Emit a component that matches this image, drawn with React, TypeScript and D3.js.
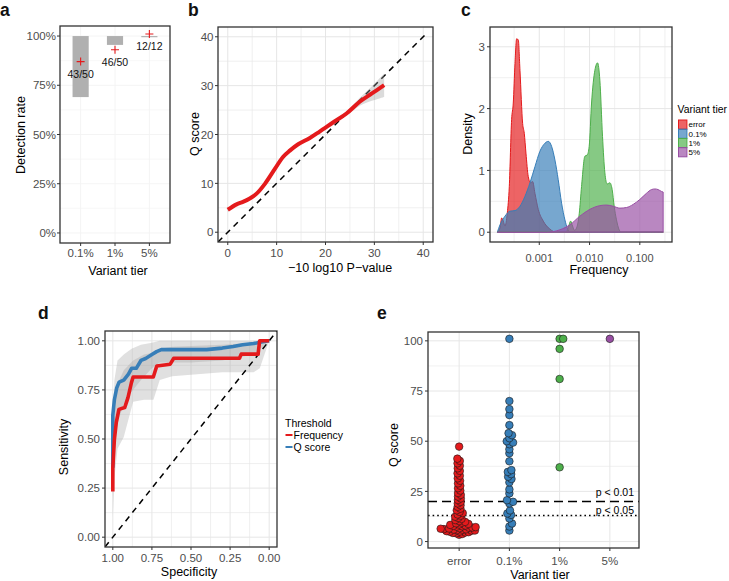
import React from "react";
import * as d3 from "d3";

const FONT = "'Liberation Sans', Arial, Helvetica, sans-serif";
const TICK_COL = "#4d4d4d";
const GRID = "#e6e6e6";
const FRAME = "#333333";
const RED = "#e41a1c";
const BLUE = "#377eb8";
const GREEN = "#4daf4a";
const PURPLE = "#984ea3";

// ---- a: detection rate per variant tier
const tierLabels = ["0.1%", "1%", "5%"];
const detected = [43, 46, 12];
const totals = [50, 50, 12];
const ciLower = [69, 95.5, 99.4];
const ciUpper = [100, 100, 100];

// ---- b: Q score vs -10 log10 P-value (smoothed fit)
const bPval = [0, 1.8, 3.1, 4.5, 5.9, 7.6, 9.6, 11.3, 12.7, 14.4, 16.8, 18.8, 21.6, 24.3, 27.0, 29.5, 32.0];
const bQ = [4.6, 5.7, 6.2, 6.9, 7.9, 9.9, 12.9, 15.4, 16.7, 18.0, 19.3, 20.6, 22.5, 24.3, 26.7, 28.4, 30.1];
const bSe = [0.4, 0.3, 0.3, 0.3, 0.3, 0.3, 0.3, 0.3, 0.3, 0.3, 0.3, 0.3, 0.3, 0.4, 0.8, 1.5, 2.4];

// ---- c: frequency densities (log10 frequency, density)
const errorLogF = [-3.834, -3.781, -3.748, -3.715, -3.682, -3.636, -3.596, -3.55, -3.517, -3.483, -3.45, -3.417, -3.384, -3.331, -3.298, -3.265, -3.219, -3.172, -3.132, -3.086, -3.02, -2.92, -2.788, -2.656, -0.536];
const errorDens = [0, 0.07, 0.23, 0.18, 0.1, 0.31, 0.74, 1.82, 2.09, 2.73, 3.13, 3.11, 2.62, 1.76, 1.6, 1.28, 0.9, 0.8, 0.82, 0.63, 0.37, 0.18, 0.05, 0, 0];
const tier01LogF = [-3.834, -3.781, -3.682, -3.583, -3.483, -3.384, -3.285, -3.185, -3.086, -2.987, -2.887, -2.821, -2.755, -2.689, -2.623, -2.556, -2.49, -2.444, -2.377, -0.536];
const tier01Dens = [0, 0.12, 0.26, 0.34, 0.35, 0.42, 0.58, 0.8, 1.06, 1.31, 1.44, 1.47, 1.39, 1.17, 0.85, 0.47, 0.2, 0.07, 0, 0];
const tier1LogF = [-3.834, -2.47, -2.424, -2.377, -2.338, -2.298, -2.245, -2.205, -2.159, -2.093, -2.046, -2.007, -1.96, -1.894, -1.841, -1.795, -1.742, -1.695, -1.649, -1.596, -1.55, -1.51, -1.464, -1.411, -1.364, -0.536];
const tier1Dens = [0, 0, 0.07, 0.18, 0.1, 0.03, 0.1, 0.3, 0.74, 1.23, 1.25, 1.39, 2.09, 2.62, 2.74, 2.46, 1.55, 0.96, 0.78, 0.8, 0.69, 0.42, 0.2, 0.04, 0, 0];
const tier5LogF = [-3.834, -2.854, -2.722, -2.589, -2.391, -2.192, -1.993, -1.795, -1.662, -1.53, -1.397, -1.265, -1.132, -1.0, -0.868, -0.768, -0.702, -0.636, -0.57, -0.536];
const tier5Dens = [0, 0, 0.01, 0.04, 0.12, 0.26, 0.37, 0.43, 0.44, 0.42, 0.39, 0.4, 0.45, 0.53, 0.63, 0.69, 0.7, 0.69, 0.66, 0.65];
const densLabels = ["error", "0.1%", "1%", "5%"];

// ---- d: ROC curves
const freqSpec = [1.0, 1.0, 0.99, 0.978, 0.961, 0.924, 0.903, 0.881, 0.87, 0.741, 0.719, 0.633, 0.611, 0.19, 0.179, 0.071, 0.061, 0.0];
const freqSens = [0.233, 0.353, 0.497, 0.583, 0.651, 0.66, 0.711, 0.787, 0.816, 0.816, 0.872, 0.881, 0.911, 0.911, 0.932, 0.932, 1.0, 1.0];
const qSpec = [1.0, 1.0, 0.99, 0.975, 0.96, 0.93, 0.9, 0.88, 0.85, 0.82, 0.79, 0.75, 0.72, 0.69, 0.55, 0.4, 0.3, 0.23, 0.17, 0.1, 0.04, 0.0];
const qSens = [0.353, 0.62, 0.7, 0.76, 0.79, 0.8, 0.83, 0.86, 0.86, 0.9, 0.91, 0.93, 0.945, 0.955, 0.955, 0.955, 0.963, 0.971, 0.98, 0.986, 0.995, 1.0];
const qBandSpec = [1.0, 0.99, 0.97, 0.93, 0.88, 0.82, 0.75, 0.7, 0.5, 0.3, 0.1, 0.0];
const qBandLow = [0.2, 0.45, 0.58, 0.68, 0.74, 0.8, 0.86, 0.89, 0.89, 0.9, 0.93, 1.0];
const qBandHigh = [0.55, 0.8, 0.9, 0.93, 0.96, 0.98, 0.99, 1.0, 1.0, 1.0, 1.0, 1.0];
const freqBandSpec = [1.0, 0.99, 0.97, 0.93, 0.87, 0.8, 0.74, 0.7, 0.62, 0.3, 0.1, 0.06, 0.0];
const freqBandLow = [0.1, 0.3, 0.45, 0.51, 0.69, 0.7, 0.7, 0.8, 0.82, 0.84, 0.84, 0.86, 1.0];
const freqBandHigh = [0.4, 0.62, 0.78, 0.85, 0.9, 0.93, 0.94, 0.96, 0.97, 0.98, 0.99, 1.0, 1.0];
const rocLabels = ["Frequency", "Q score"];

// ---- e: Q scores per tier
const eTiers = ["error", "0.1%", "1%", "5%"];
const errorQ = [3.4, 3.8, 4.1, 4.3, 4.5, 4.7, 4.9, 5.0, 5.2, 5.4, 5.5, 5.7, 5.9, 6.0, 6.1, 6.2, 6.4, 6.5, 6.7, 6.9, 7.0, 7.2, 7.4, 7.6, 7.8, 8.0, 8.3, 8.5, 8.8, 9.1, 9.4, 9.8, 10.2, 10.7, 11.3, 11.8, 12.4, 12.9, 13.5, 14.2, 14.8, 15.6, 16.4, 17.3, 18.1, 19.0, 19.8, 20.7, 21.5, 22.4, 23.3, 24.2, 25.4, 26.6, 27.8, 29.0, 30.3, 31.5, 32.8, 34.0, 35.2, 36.5, 37.8, 39.0, 40.2, 41.3, 47.3];
const tier01Q = [101, 70, 66, 63, 58, 54, 53, 51.5, 50, 49.3, 48.5, 46, 44, 40, 35.6, 34.7, 33.6, 32.3, 31.2, 29.5, 26, 24, 20.6, 19.8, 19, 15.5, 14, 13.3, 11.5, 9, 7.5, 5.5];
const tier1Q = [101, 101, 96, 81, 37];
const tier5Q = [101];
const pCut = [20, 13];
const pCutLabels = ["p < 0.01", "p < 0.05"];

type Box = { l: number; r: number; t: number; b: number };

function Frame({ box }: { box: Box }) {
  return (
    <rect x={box.l} y={box.t} width={box.r - box.l} height={box.b - box.t}
      fill="none" stroke={FRAME} strokeWidth={1.3} />
  );
}

function Grid({ box, xs, ys, w, color = GRID }: { box: Box; xs: number[]; ys: number[]; w: number; color?: string }) {
  return (
    <g>
      {xs.map((x, i) => <line key={"x" + i} x1={x} x2={x} y1={box.t} y2={box.b} stroke={color} strokeWidth={w} />)}
      {ys.map((y, i) => <line key={"y" + i} x1={box.l} x2={box.r} y1={y} y2={y} stroke={color} strokeWidth={w} />)}
    </g>
  );
}

function YAxis({ box, ys, labels, right, size = 11.5 }: { box: Box; ys: number[]; labels: string[]; right: number; size?: number }) {
  return (
    <g>
      {ys.map((y, i) => (
        <g key={i}>
          <line x1={box.l - 3} x2={box.l} y1={y} y2={y} stroke={FRAME} strokeWidth={1} />
          <text x={right} y={y} dy="0.36em" textAnchor="end" fontSize={size} fill={TICK_COL}>{labels[i]}</text>
        </g>
      ))}
    </g>
  );
}

function XAxis({ box, xs, labels, base, size = 11.5 }: { box: Box; xs: number[]; labels: string[]; base: number; size?: number }) {
  return (
    <g>
      {xs.map((x, i) => (
        <g key={i}>
          <line x1={x} x2={x} y1={box.b} y2={box.b + 3} stroke={FRAME} strokeWidth={1} />
          <text x={x} y={base} textAnchor="middle" fontSize={size} fill={TICK_COL}>{labels[i]}</text>
        </g>
      ))}
    </g>
  );
}

function Title({ x, y, text, rotate = false }: { x: number; y: number; text: string; rotate?: boolean }) {
  return (
    <text transform={`translate(${x},${y})${rotate ? " rotate(-90)" : ""}`} textAnchor="middle" fontSize={12.5} fill="#000">
      {text}
    </text>
  );
}

function Letter({ x, y, t }: { x: number; y: number; t: string }) {
  return <text x={x} y={y} fontSize={17.5} fontWeight="bold" fill="#111">{t}</text>;
}

// simple beeswarm: each point (ascending) takes the smallest free horizontal offset
function swarm(values: number[], y: (v: number) => number, d: number) {
  const sorted = values.map((v) => ({ v, y: y(v) })).sort((a, b) => a.v - b.v);
  const placed: { x: number; y: number; v: number }[] = [];
  for (const p of sorted) {
    const ivs = placed
      .filter((q) => Math.abs(q.y - p.y) < d)
      .map((q) => {
        const dx = Math.sqrt(d * d - (q.y - p.y) ** 2);
        return [q.x - dx, q.x + dx];
      });
    const cands = [0, ...ivs.flat()].sort((a, b) => Math.abs(a) - Math.abs(b) || b - a);
    let x = 0;
    for (const c of cands) {
      if (ivs.every(([lo, hi]) => c <= lo + 1e-6 || c >= hi - 1e-6)) { x = c; break; }
    }
    placed.push({ x, y: p.y, v: p.v });
  }
  return placed;
}

function PanelA() {
  const box: Box = { l: 60, r: 170, t: 26, b: 243 };
  const x = d3.scaleLinear().domain([-0.6, 2.6]).range([box.l, box.r]);
  const y = d3.scaleLinear().domain([-5.1, 105.1]).range([box.b, box.t]);
  const major = [0, 25, 50, 75, 100];
  const minor = [12.5, 37.5, 62.5, 87.5];
  const bw = 0.235;
  return (
    <g>
      <Grid box={box} xs={[]} ys={minor.map(y)} w={0.6} color="#f3f3f3" />
      <Grid box={box} xs={tierLabels.map((_, i) => x(i))} ys={major.map(y)} w={0.9} color="#f3f3f3" />
      {tierLabels.map((_, i) => (
        <rect key={i} x={x(i - bw)} width={x(i + bw) - x(i - bw)} y={y(ciUpper[i])}
          height={Math.max(1.2, y(ciLower[i]) - y(ciUpper[i]))} fill="#b0b0b0" />
      ))}
      {tierLabels.map((_, i) => {
        const cx = x(i), cy = y((detected[i] / totals[i]) * 100) - 2;
        return (
          <g key={i}>
            <path d={`M${cx - 4},${cy}H${cx + 4}M${cx},${cy - 4}V${cy + 4}`} stroke={RED} strokeWidth={1.1} />
            <text x={cx} y={cy + 16} textAnchor="middle" fontSize={10.5} fill="#111">{`${detected[i]}/${totals[i]}`}</text>
          </g>
        );
      })}
      <Frame box={box} />
      <YAxis box={box} ys={major.map(y)} labels={major.map((v) => `${v}%`)} right={56} />
      <XAxis box={box} xs={tierLabels.map((_, i) => x(i))} labels={tierLabels} base={257} />
      <Title x={118} y={275} text="Variant tier" />
      <Title x={25} y={135} text="Detection rate" rotate />
      <Letter x={0} y={16} t="a" />
    </g>
  );
}

function PanelB() {
  const box: Box = { l: 218, r: 433, t: 27, b: 242 };
  const x = d3.scaleLinear().domain([-2, 42]).range([box.l, box.r]);
  const y = d3.scaleLinear().domain([-2, 42]).range([box.b, box.t]);
  const major = [0, 10, 20, 30, 40];
  const minor = [5, 15, 25, 35];
  const idx = bPval.map((_, i) => i);
  const ribbon = d3.area<number>().x((i) => x(bPval[i])).y0((i) => y(bQ[i] - bSe[i])).y1((i) => y(bQ[i] + bSe[i])).curve(d3.curveCatmullRom);
  const line = d3.line<number>().x((i) => x(bPval[i])).y((i) => y(bQ[i])).curve(d3.curveCatmullRom);
  return (
    <g>
      <Grid box={box} xs={minor.map(x)} ys={minor.map(y)} w={0.6} />
      <Grid box={box} xs={major.map(x)} ys={major.map(y)} w={1} />
      <g clipPath="url(#clipB)">
        <line x1={x(-2)} y1={y(-2)} x2={x(40.5)} y2={y(40.5)} stroke="#000" strokeWidth={1.5} strokeDasharray="6,5" />
      </g>
      <path d={ribbon(idx) || ""} fill="#999" fillOpacity={0.35} />
      <path d={line(idx) || ""} fill="none" stroke={RED} strokeWidth={4} strokeLinecap="butt" />
      <Frame box={box} />
      <YAxis box={box} ys={major.map(y)} labels={major.map(String)} right={213.5} />
      <XAxis box={box} xs={major.map(x)} labels={major.map(String)} base={256.5} />
      <Title x={340} y={272} text="−10 log10 P−value" />
      <Title x={199} y={134} text="Q score" rotate />
      <Letter x={188} y={16} t="b" />
    </g>
  );
}

function PanelC() {
  const box: Box = { l: 490, r: 672, t: 27, b: 242 };
  const x = d3.scaleLog().domain([10 ** -3.98, 10 ** -0.36]).range([box.l, box.r]);
  const y = d3.scaleLinear().domain([-0.158, 3.32]).range([box.b, box.t]);
  const majorX = [0.001, 0.01, 0.1];
  const minorX = [10 ** -3.5, 10 ** -2.5, 10 ** -1.5, 10 ** -0.5];
  const majorY = [0, 1, 2, 3];
  const minorY = [0.5, 1.5, 2.5];
  const series = [
    { lf: errorLogF, dn: errorDens, c: RED },
    { lf: tier01LogF, dn: tier01Dens, c: BLUE },
    { lf: tier1LogF, dn: tier1Dens, c: GREEN },
    { lf: tier5LogF, dn: tier5Dens, c: PURPLE },
  ];
  const keyH = 9.2;
  return (
    <g>
      <Grid box={box} xs={minorX.map(x)} ys={minorY.map(y)} w={0.6} />
      <Grid box={box} xs={majorX.map(x)} ys={majorY.map(y)} w={1} />
      <g clipPath="url(#clipC)">
        {series.map((s, k) => {
          const idx = s.lf.map((_, i) => i);
          const area = d3.area<number>().x((i) => x(10 ** s.lf[i])).y0(y(0)).y1((i) => y(s.dn[i])).curve(d3.curveMonotoneX);
          return <path key={k} d={area(idx) || ""} fill={s.c} fillOpacity={0.68} stroke={s.c} strokeWidth={1} />;
        })}
      </g>
      <Frame box={box} />
      <YAxis box={box} ys={majorY.map(y)} labels={majorY.map(String)} right={485} />
      <XAxis box={box} xs={majorX.map(x)} labels={["0.001", "0.010", "0.100"]} base={261.5} size={11} />
      <Title x={599} y={274} text="Frequency" />
      <Title x={472} y={134} text="Density" rotate />
      <Letter x={461} y={16} t="c" />
      <text x={677.5} y={113} fontSize={10.4} fill="#000">Variant tier</text>
      {densLabels.map((lab, i) => (
        <g key={lab}>
          <rect x={678.5} y={120 + i * keyH} width={8.4} height={keyH} fill={series[i].c} fillOpacity={0.68} stroke={series[i].c} strokeWidth={1} />
          <text x={688.5} y={120 + i * keyH + keyH / 2} dy="0.35em" fontSize={8} fill="#000">{lab}</text>
        </g>
      ))}
    </g>
  );
}

function PanelD() {
  const box: Box = { l: 105, r: 277, t: 331, b: 547 };
  const x = d3.scaleLinear().domain([1.05, -0.05]).range([box.l, box.r]);
  const y = d3.scaleLinear().domain([-0.05, 1.05]).range([box.b, box.t]);
  const major = [0, 0.25, 0.5, 0.75, 1];
  const minor = [0.125, 0.375, 0.625, 0.875];
  const band = (sp: number[], lo: number[], hi: number[]) =>
    d3.area<number>().x((i) => x(sp[i])).y0((i) => y(lo[i])).y1((i) => y(hi[i]))(sp.map((_, i) => i)) || "";
  const path = (sp: number[], se: number[]) =>
    d3.line<number>().x((i) => x(sp[i])).y((i) => y(se[i]))(sp.map((_, i) => i)) || "";
  const fmt = d3.format(".2f");
  return (
    <g>
      <Grid box={box} xs={minor.map(x)} ys={minor.map(y)} w={0.6} />
      <Grid box={box} xs={major.map(x)} ys={major.map(y)} w={1} />
      <path d={band(freqBandSpec, freqBandLow, freqBandHigh)} fill="#999" fillOpacity={0.3} />
      <path d={band(qBandSpec, qBandLow, qBandHigh)} fill="#999" fillOpacity={0.3} />
      <g clipPath="url(#clipD)">
        <line x1={x(1.05)} y1={y(-0.05)} x2={x(-0.05)} y2={y(1.05)} stroke="#000" strokeWidth={1.5} strokeDasharray="6,5" />
      </g>
      <path d={path(qSpec, qSens)} fill="none" stroke={BLUE} strokeWidth={3.6} strokeLinejoin="round" />
      <path d={path(freqSpec, freqSens)} fill="none" stroke={RED} strokeWidth={3.6} strokeLinejoin="round" />
      <Frame box={box} />
      <YAxis box={box} ys={major.map(y)} labels={major.map(fmt)} right={100} />
      <XAxis box={box} xs={major.map(x)} labels={major.map(fmt)} base={561.5} />
      <Title x={189} y={576} text="Specificity" />
      <Title x={68} y={447} text="Sensitivity" rotate />
      <Letter x={38} y={319} t="d" />
      <text x={285} y={427} fontSize={10.5} fill="#000">Threshold</text>
      {rocLabels.map((lab, i) => (
        <g key={lab}>
          <line x1={285.5} x2={292.5} y1={435 + i * 12} y2={435 + i * 12} stroke={i === 0 ? RED : BLUE} strokeWidth={2} />
          <text x={293.5} y={438.8 + i * 12} fontSize={10.5} fill="#000">{lab}</text>
        </g>
      ))}
    </g>
  );
}

function PanelE() {
  const box: Box = { l: 428, r: 639, t: 332, b: 548 };
  const x = d3.scaleLinear().domain([-0.62, 3.58]).range([box.l, box.r]);
  const y = d3.scaleLinear().domain([-3.2, 104.4]).range([box.b, box.t]);
  const major = [0, 25, 50, 75, 100];
  const minor = [12.5, 37.5, 62.5, 87.5];
  const groups = [
    { v: errorQ, c: RED, d: 3.3 },
    { v: tier01Q, c: BLUE, d: 4 },
    { v: tier1Q, c: GREEN, d: 3.6 },
    { v: tier5Q, c: PURPLE, d: 3.6 },
  ];
  return (
    <g>
      <Grid box={box} xs={[]} ys={minor.map(y)} w={0.6} />
      <Grid box={box} xs={eTiers.map((_, i) => x(i))} ys={major.map(y)} w={1} />
      <line x1={box.l} x2={box.r} y1={y(pCut[0])} y2={y(pCut[0])} stroke="#000" strokeWidth={1.5} strokeDasharray="9,5" />
      <line x1={box.l} x2={box.r} y1={y(pCut[1])} y2={y(pCut[1])} stroke="#000" strokeWidth={1.6} strokeDasharray="1.6,3" />
      {groups.map((g, k) =>
        swarm(g.v, y, g.d).map((p, i) => (
          <circle key={k + "-" + i} cx={x(k) + p.x} cy={p.y} r={3.8} fill={g.c} stroke="#1a1a1a" strokeWidth={0.6} />
        ))
      )}
      <text x={634} y={496} textAnchor="end" fontSize={10.5} fill="#000">{pCutLabels[0]}</text>
      <text x={634} y={514} textAnchor="end" fontSize={10.5} fill="#000">{pCutLabels[1]}</text>
      <Frame box={box} />
      <YAxis box={box} ys={major.map(y)} labels={major.map(String)} right={423} />
      <XAxis box={box} xs={eTiers.map((_, i) => x(i))} labels={eTiers} base={565} />
      <Title x={540} y={579} text="Variant tier" />
      <Title x={398} y={445} text="Q score" rotate />
      <Letter x={377} y={319} t="e" />
    </g>
  );
}

export default function App() {
  return (
    <svg width={729} height={581} viewBox="0 0 729 581" fontFamily={FONT}
      style={{ position: "absolute", left: 0, top: 0, background: "#fff" }}>
      <defs>
        <clipPath id="clipB"><rect x={218} y={27} width={215} height={215} /></clipPath>
        <clipPath id="clipC"><rect x={490} y={27} width={182} height={215} /></clipPath>
        <clipPath id="clipD"><rect x={105} y={331} width={172} height={216} /></clipPath>
      </defs>
      <rect width={729} height={581} fill="#fff" />
      <PanelA />
      <PanelB />
      <PanelC />
      <PanelD />
      <PanelE />
    </svg>
  );
}
